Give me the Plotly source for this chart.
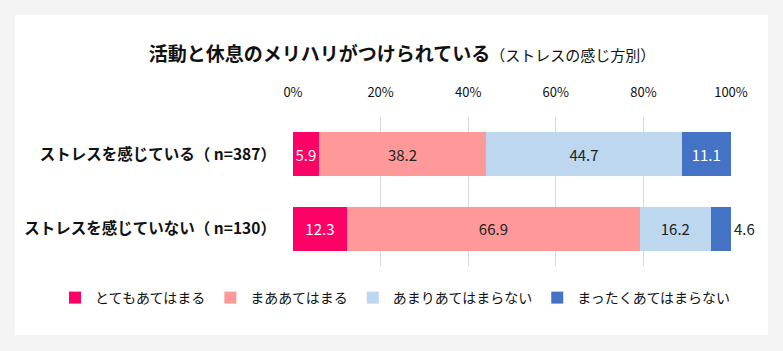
import plotly.graph_objects as go

categories = ["ストレスを感じている（ n=387）", "ストレスを感じていない（ n=130）"]
series_names = ["とてもあてはまる", "まああてはまる", "あまりあてはまらない", "まったくあてはまらない"]
very = [5.9, 12.3]
somewhat = [38.2, 66.9]
notmuch = [44.7, 16.2]
notatall = [11.1, 4.6]
tick_vals = [0, 20, 40, 60, 80, 100]
tick_text = ["0%", "20%", "40%", "60%", "80%", "100%"]

colors = ["#FF0066", "#FF9999", "#BDD7EE", "#4472C4"]
font_family = "Noto Sans CJK JP"

fig = go.Figure()
data = [very, somewhat, notmuch, notatall]
inside_colors = ["white", "#222222", "#222222", "white"]
for i, (name, vals) in enumerate(zip(series_names, data)):
    if i == 3:
        tp = ["inside", "outside"]
    else:
        tp = "inside"
    fig.add_trace(go.Bar(
        y=categories, x=vals, name=name, orientation="h",
        marker=dict(color=colors[i], line=dict(width=0)),
        text=[f"{v:.1f}" for v in vals], textposition=tp,
        insidetextanchor="middle",
        insidetextfont=dict(color=inside_colors[i], size=15, family=font_family),
        outsidetextfont=dict(color="#222222", size=15, family=font_family),
        constraintext="none", cliponaxis=False,
        hoverinfo="skip",
    ))

PW = 438.0
PH = 149.0

fig.update_layout(
    barmode="stack",
    bargap=0.41,
    width=783, height=351,
    margin=dict(l=293, r=52, t=117, b=85, autoexpand=False),
    paper_bgcolor="#F4F4F4",
    plot_bgcolor="white",
    font=dict(family=font_family, color="#111111"),
    title=dict(
        text="<b>活動と休息のメリハリがつけられている</b><span style='font-size:15px'>（ストレスの感じ方別）</span>",
        font=dict(size=19, family=font_family, color="#111111"),
        xref="container", yref="container", x=402/783, xanchor="center",
        y=1-54/351, yanchor="middle",
    ),
    xaxis=dict(
        side="top", range=[0, 100], tickvals=tick_vals, ticktext=tick_text,
        showgrid=True, gridcolor="#D9D9D9", gridwidth=1,
        zeroline=False, showline=False,
        ticks="outside", ticklen=14, tickcolor="rgba(0,0,0,0)",
        tickfont=dict(size=13, color="#111111"),
    ),
    yaxis=dict(
        autorange="reversed", showgrid=False, zeroline=False, showline=False,
        ticks="outside", ticklen=13, tickcolor="rgba(0,0,0,0)",
        tickfont=dict(size=15.5, color="#111111", family=font_family),
        tickvals=categories, ticktext=[f"<b>{c}</b>" for c in categories],
    ),
    legend=dict(
        orientation="h", xref="paper", yref="paper",
        x=(55-293)/PW, xanchor="left", y=(266-298)/PH, yanchor="middle",
        font=dict(size=14, color="#111111"), traceorder="normal",
        bgcolor="rgba(0,0,0,0)", itemwidth=30,
    ),
    showlegend=True,
    shapes=[dict(type="rect", xref="paper", yref="paper",
                 x0=(15-293)/PW, x1=(768-293)/PW,
                 y0=(266-335)/PH, y1=(266-15)/PH,
                 fillcolor="white", line=dict(width=0), layer="below")],
)

fig.write_html("out.html")
